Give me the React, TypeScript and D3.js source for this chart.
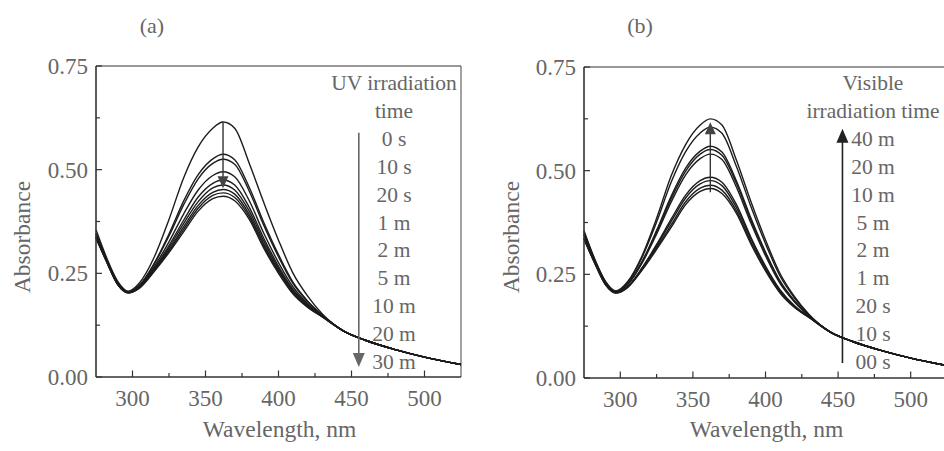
import * as d3 from "d3";

const WAVELENGTH = [275, 282, 290, 297, 305, 315, 325, 335, 345, 355, 362, 370, 380, 390, 400, 410, 420, 430, 445, 460, 480, 500, 525];

const UV_LABELS = ["0 s", "10 s", "20 s", "1 m", "2 m", "5 m", "10 m", "20 m", "30 m"];
const UV_SERIES = [
  [0.355, 0.29, 0.23, 0.207, 0.228, 0.29, 0.38, 0.48, 0.555, 0.6, 0.615, 0.6, 0.515, 0.42, 0.33, 0.25, 0.195, 0.152, 0.11, 0.088, 0.066, 0.048, 0.03],
  [0.346, 0.286, 0.227, 0.205, 0.222, 0.275, 0.345, 0.424, 0.488, 0.526, 0.537, 0.524, 0.457, 0.372, 0.295, 0.228, 0.183, 0.149, 0.11, 0.088, 0.066, 0.048, 0.03],
  [0.345, 0.285, 0.226, 0.205, 0.222, 0.273, 0.34, 0.415, 0.478, 0.515, 0.525, 0.513, 0.448, 0.365, 0.29, 0.225, 0.182, 0.149, 0.11, 0.088, 0.066, 0.048, 0.03],
  [0.342, 0.283, 0.225, 0.204, 0.219, 0.267, 0.326, 0.393, 0.451, 0.486, 0.495, 0.483, 0.425, 0.346, 0.276, 0.217, 0.177, 0.147, 0.11, 0.088, 0.066, 0.048, 0.03],
  [0.339, 0.282, 0.224, 0.204, 0.218, 0.263, 0.317, 0.378, 0.434, 0.467, 0.475, 0.463, 0.409, 0.334, 0.267, 0.211, 0.174, 0.147, 0.11, 0.088, 0.066, 0.048, 0.03],
  [0.338, 0.282, 0.223, 0.204, 0.217, 0.26, 0.312, 0.37, 0.423, 0.456, 0.463, 0.451, 0.4, 0.327, 0.262, 0.208, 0.172, 0.146, 0.11, 0.088, 0.066, 0.048, 0.03],
  [0.337, 0.281, 0.223, 0.203, 0.216, 0.258, 0.307, 0.362, 0.414, 0.445, 0.452, 0.441, 0.392, 0.32, 0.257, 0.204, 0.17, 0.146, 0.11, 0.088, 0.066, 0.048, 0.03],
  [0.336, 0.28, 0.222, 0.203, 0.216, 0.257, 0.304, 0.356, 0.407, 0.438, 0.444, 0.433, 0.386, 0.315, 0.254, 0.202, 0.169, 0.145, 0.11, 0.088, 0.066, 0.048, 0.03],
  [0.335, 0.28, 0.222, 0.203, 0.215, 0.255, 0.3, 0.35, 0.4, 0.43, 0.436, 0.425, 0.38, 0.31, 0.25, 0.2, 0.168, 0.145, 0.11, 0.088, 0.066, 0.048, 0.03],
];

const VIS_LABELS = ["40 m", "20 m", "10 m", "5 m", "2 m", "1 m", "20 s", "10 s", "00 s"];
const VIS_SERIES = [
  [0.355, 0.29, 0.232, 0.21, 0.232, 0.295, 0.385, 0.487, 0.563, 0.61, 0.625, 0.61, 0.525, 0.425, 0.333, 0.252, 0.196, 0.153, 0.11, 0.088, 0.066, 0.048, 0.03],
  [0.353, 0.289, 0.231, 0.209, 0.23, 0.291, 0.376, 0.472, 0.546, 0.591, 0.605, 0.59, 0.51, 0.413, 0.324, 0.246, 0.193, 0.152, 0.11, 0.088, 0.066, 0.048, 0.03],
  [0.347, 0.286, 0.229, 0.208, 0.226, 0.281, 0.356, 0.438, 0.506, 0.547, 0.559, 0.545, 0.475, 0.385, 0.304, 0.234, 0.186, 0.15, 0.11, 0.088, 0.066, 0.048, 0.03],
  [0.346, 0.286, 0.228, 0.208, 0.226, 0.28, 0.352, 0.432, 0.499, 0.54, 0.551, 0.537, 0.469, 0.38, 0.3, 0.231, 0.185, 0.15, 0.11, 0.088, 0.066, 0.048, 0.03],
  [0.345, 0.285, 0.228, 0.207, 0.225, 0.277, 0.347, 0.424, 0.49, 0.529, 0.54, 0.527, 0.46, 0.373, 0.295, 0.228, 0.183, 0.149, 0.11, 0.088, 0.066, 0.048, 0.03],
  [0.338, 0.282, 0.225, 0.206, 0.22, 0.266, 0.322, 0.383, 0.441, 0.476, 0.484, 0.472, 0.418, 0.339, 0.27, 0.213, 0.174, 0.147, 0.11, 0.088, 0.066, 0.048, 0.03],
  [0.337, 0.281, 0.225, 0.206, 0.22, 0.264, 0.318, 0.377, 0.434, 0.468, 0.476, 0.464, 0.411, 0.335, 0.266, 0.21, 0.173, 0.147, 0.11, 0.088, 0.066, 0.048, 0.03],
  [0.336, 0.28, 0.224, 0.205, 0.219, 0.262, 0.314, 0.369, 0.425, 0.458, 0.465, 0.453, 0.403, 0.328, 0.262, 0.207, 0.171, 0.146, 0.11, 0.088, 0.066, 0.048, 0.03],
  [0.335, 0.28, 0.224, 0.205, 0.218, 0.26, 0.31, 0.363, 0.418, 0.45, 0.457, 0.445, 0.397, 0.323, 0.258, 0.205, 0.17, 0.146, 0.11, 0.088, 0.066, 0.048, 0.03],
];

const X_TICKS = [300, 350, 400, 450, 500];
const X_MINOR = [325, 375, 425, 475];
const Y_TICKS = [0, 0.25, 0.5, 0.75];
const Y_MINOR = [0.125, 0.375, 0.625];

const FONT = "'Liberation Serif', 'Times New Roman', serif";
const TEXT = "#666";
const fmt = d3.format(".2f");

type PanelProps = {
  x0: number;
  x1: number;
  y0: number;
  y1: number;
  series: number[][];
  tag: string;
  tagX: number;
  header: string[];
  labels: string[];
  legendX: number;
  yTitleX: number;
  // peak arrow: [from, to] absorbance at 362 nm
  peakArrow: [number, number];
  // legend arrow wavelength and [from, to] absorbance
  legendArrowX: number;
  legendArrow: [number, number];
  arrowColor: string;
};

const Panel = (p: PanelProps) => {
  const x = d3.scaleLinear().domain([275, 525]).range([p.x0, p.x1]);
  const y = d3.scaleLinear().domain([0, 0.75]).range([p.y1, p.y0]);
  const line = d3
    .line<number>()
    .x((_, i) => x(WAVELENGTH[i]))
    .y((d) => y(d))
    .curve(d3.curveMonotoneX);

  const arrowHead = (cx: number, tip: number, dir: number, w: number, h: number) =>
    `M${cx},${tip} L${cx - w / 2},${tip - dir * h} L${cx + w / 2},${tip - dir * h} Z`;

  const px = x(362);
  const [pa, pb] = p.peakArrow;
  const pDir = pb < pa ? 1 : -1; // 1 = pointing down
  const lx = x(p.legendArrowX);
  const [la, lb] = p.legendArrow;
  const lDir = lb < la ? 1 : -1;

  const lineStep = 27.9;
  const legendTop = 83;
  const allLines = [...p.header, ...p.labels];

  return (
    <g>
      <text x={p.tagX} y={33} textAnchor="middle" fontFamily={FONT} fontSize={22} fill={TEXT}>
        {p.tag}
      </text>

      {/* frame */}
      <line x1={p.x0} x2={p.x1} y1={p.y0} y2={p.y0} stroke="#333" strokeWidth={1} />
      <line x1={p.x1} x2={p.x1} y1={p.y0} y2={p.y1} stroke="#444" strokeWidth={1} />

      {/* curves */}
      {p.series.map((s, i) => (
        <path key={i} d={line(s) || ""} fill="none" stroke="#1c1c1c" strokeWidth={1.4} />
      ))}

      {/* axes */}
      <line x1={p.x0} x2={p.x1} y1={p.y1} y2={p.y1} stroke="#333" strokeWidth={1.6} />
      <line x1={p.x0} x2={p.x0} y1={p.y0} y2={p.y1} stroke="#333" strokeWidth={1.6} />
      {X_TICKS.map((t) => (
        <g key={t}>
          <line x1={x(t)} x2={x(t)} y1={p.y1} y2={p.y1 - 6.5} stroke="#333" strokeWidth={1.2} />
          <text x={x(t)} y={p.y1 + 29} textAnchor="middle" fontFamily={FONT} fontSize={23} fill={TEXT}>
            {t}
          </text>
        </g>
      ))}
      {X_MINOR.map((t) => (
        <line key={t} x1={x(t)} x2={x(t)} y1={p.y1} y2={p.y1 - 4} stroke="#333" strokeWidth={1.2} />
      ))}
      {Y_TICKS.map((t) => (
        <g key={t}>
          <line x1={p.x0} x2={p.x0 + 6} y1={y(t)} y2={y(t)} stroke="#333" strokeWidth={1.2} />
          <text x={p.x0 - 8} y={y(t) + 8} textAnchor="end" fontFamily={FONT} fontSize={23} fill={TEXT}>
            {fmt(t)}
          </text>
        </g>
      ))}
      {Y_MINOR.map((t) => (
        <line key={t} x1={p.x0} x2={p.x0 + 4} y1={y(t)} y2={y(t)} stroke="#333" strokeWidth={1.2} />
      ))}

      <text
        x={(p.x0 + p.x1) / 2 + 1}
        y={437}
        textAnchor="middle"
        fontFamily={FONT}
        fontSize={23.5}
        fill={TEXT}
      >
        Wavelength, nm
      </text>
      <text
        transform={`translate(${p.yTitleX},237) rotate(-90)`}
        textAnchor="middle"
        fontFamily={FONT}
        fontSize={23.5}
        fill={TEXT}
      >
        Absorbance
      </text>

      {/* peak arrow */}
      <line x1={px} x2={px} y1={y(pa)} y2={y(pb) - pDir * 2} stroke="#333" strokeWidth={1.4} />
      <path d={arrowHead(px, y(pb), pDir, 11, 12)} fill="#444" />

      {/* legend */}
      {allLines.map((t, i) => (
        <text
          key={i}
          x={p.legendX}
          y={legendTop + i * lineStep + 7}
          textAnchor="middle"
          fontFamily={FONT}
          fontSize={21.5}
          fill={TEXT}
        >
          {t}
        </text>
      ))}
      <line x1={lx} x2={lx} y1={y(la)} y2={y(lb) - lDir * 4} stroke={p.arrowColor} strokeWidth={1.6} />
      <path d={arrowHead(lx, y(lb), lDir, 12, 14)} fill={p.arrowColor} />
    </g>
  );
};

export default function App() {
  return (
    <svg
      width={944}
      height={451}
      style={{ position: "absolute", left: 0, top: 0, background: "#fff" }}
    >
      <rect width={944} height={451} fill="#fff" />
      <Panel
        x0={96}
        x1={461}
        y0={66}
        y1={377}
        series={UV_SERIES}
        tag="(a)"
        tagX={152}
        header={["UV irradiation", "time"]}
        labels={UV_LABELS}
        legendX={394}
        yTitleX={30}
        peakArrow={[0.615, 0.455]}
        legendArrowX={455}
        legendArrow={[0.589, 0.024]}
        arrowColor="#666"
      />
      <Panel
        x0={584}
        x1={947}
        y0={67}
        y1={378}
        series={VIS_SERIES}
        tag="(b)"
        tagX={640}
        header={["Visible", "irradiation time"]}
        labels={VIS_LABELS}
        legendX={873}
        yTitleX={519}
        peakArrow={[0.448, 0.617]}
        legendArrowX={453}
        legendArrow={[0.036, 0.601]}
        arrowColor="#222"
      />
    </svg>
  );
}
